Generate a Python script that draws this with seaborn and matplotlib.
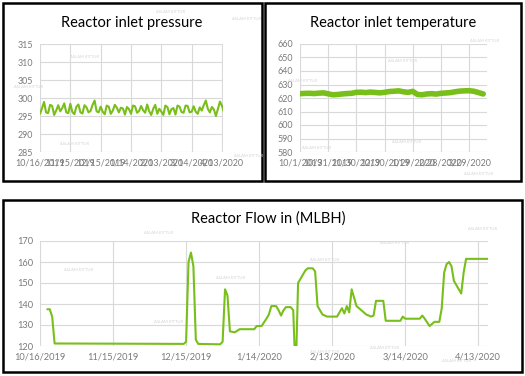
import pandas as pd
import numpy as np
import matplotlib
matplotlib.use("Agg")
import matplotlib.pyplot as plt
import seaborn as sns
from matplotlib.patches import Rectangle

# ---- data ----
pressure_start = "2019-10-16"
pressure_values = [
    295.6, 297.2, 298.9, 296.0, 295.8, 298.1, 297.8, 295.3, 296.5, 298.0,
    296.3, 297.2, 298.5, 296.0, 295.8, 298.4, 296.1, 295.5, 297.6, 298.2,
    296.0, 295.7, 298.0, 297.4, 296.0, 296.4, 298.1, 299.3, 296.3, 296.0,
    297.6, 296.2, 295.5, 297.9, 297.6, 295.6, 296.5, 298.1, 297.3, 296.0,
    297.3, 297.1, 295.4, 297.5, 296.9, 295.6, 297.9, 297.7, 295.9, 296.4,
    297.8, 296.6, 295.9, 298.2, 296.3, 295.3, 297.0, 298.1, 295.6, 297.0,
    296.2, 295.3, 297.9, 297.5, 295.5, 296.9, 297.2, 295.4, 297.9, 297.6,
    296.1, 295.9, 297.9, 297.8, 296.0, 296.2, 297.7, 296.2, 295.6, 297.4,
    296.5, 298.0, 299.3, 297.0, 296.0, 297.5, 296.8, 295.0, 297.0, 299.0,
    297.8, 296.0,
]
pressure_ticks = ["10/16/2019", "11/15/2019", "12/15/2019", "1/14/2020",
                  "2/13/2020", "3/14/2020", "4/13/2020"]

temp_start = "2019-10-01"
temp_values = [
    623.2, 623.4, 623.5, 623.3, 623.6, 623.8, 623.1, 622.4, 622.6, 623.0,
    623.3, 623.5, 624.2, 624.3, 624.0, 624.4, 624.1, 623.8, 624.2, 624.8,
    625.0, 625.3, 624.6, 624.2, 624.9, 622.6, 622.4, 623.0, 623.2, 622.9,
    623.5, 623.7, 624.0, 624.6, 625.1, 625.3, 625.4, 625.0, 624.0, 623.0,
]
temp_ticks = ["10/1/2019", "10/31/2019", "11/30/2019", "12/30/2019",
              "1/29/2020", "2/28/2020", "3/29/2020"]

flow_dates = [
    "2019-10-19", "2019-10-20", "2019-10-21", "2019-10-22", "2019-11-20",
    "2019-12-14", "2019-12-15", "2019-12-16", "2019-12-17", "2019-12-18",
    "2019-12-19", "2019-12-20", "2019-12-29", "2019-12-30", "2019-12-31",
    "2020-01-01", "2020-01-02", "2020-01-04", "2020-01-06", "2020-01-12",
    "2020-01-13", "2020-01-15", "2020-01-17", "2020-01-18", "2020-01-19",
    "2020-01-21", "2020-01-22", "2020-01-23", "2020-01-24", "2020-01-25",
    "2020-01-27", "2020-01-28", "2020-01-29", "2020-01-30", "2020-01-31",
    "2020-02-02", "2020-02-03", "2020-02-05", "2020-02-06", "2020-02-07",
    "2020-02-09", "2020-02-11", "2020-02-15", "2020-02-16", "2020-02-17",
    "2020-02-18", "2020-02-19", "2020-02-20", "2020-02-21", "2020-02-23",
    "2020-02-25", "2020-02-27", "2020-02-29", "2020-03-01", "2020-03-02",
    "2020-03-05", "2020-03-06", "2020-03-12", "2020-03-13", "2020-03-14",
    "2020-03-20", "2020-03-21", "2020-03-22", "2020-03-24", "2020-03-25",
    "2020-03-26", "2020-03-28", "2020-03-29", "2020-03-30", "2020-03-31",
    "2020-04-01", "2020-04-02", "2020-04-03", "2020-04-04", "2020-04-05",
    "2020-04-06", "2020-04-07", "2020-04-08", "2020-04-17",
]
flow_values = [
    137.5, 137.5, 134.0, 121.2, 121.1,
    121.0, 122.0, 160.0, 164.5, 158.0,
    123.0, 121.0, 120.8, 122.0, 147.0,
    144.0, 127.0, 126.5, 128.0, 128.0,
    129.5, 129.5, 133.0, 135.0, 139.0,
    139.0, 137.0, 134.5, 137.0, 138.5,
    138.5, 137.0, 105.0, 150.0, 152.0,
    156.0, 157.0, 157.0, 155.5, 139.0,
    135.0, 134.0, 134.0, 136.0, 138.0,
    135.5, 139.0, 136.0, 147.0, 139.0,
    137.0, 135.0, 134.0, 134.5, 141.5,
    141.5, 132.0, 132.0, 134.0, 133.0,
    133.0, 134.5, 133.0, 129.5, 130.5,
    131.5, 131.5, 138.0, 155.0, 159.0,
    160.0, 158.0, 151.0, 149.0, 147.0,
    145.0, 155.0, 161.5, 161.5,
]
flow_ticks = ["10/16/2019", "11/15/2019", "12/15/2019", "1/14/2020",
              "2/13/2020", "3/14/2020", "4/13/2020"]

watermark = "ASLAM KITTUR"

pressure_df = pd.DataFrame({
    "date": pd.date_range(pressure_start, periods=len(pressure_values), freq="2D"),
    "value": pressure_values,
})
temp_df = pd.DataFrame({
    "date": pd.date_range(temp_start, periods=len(temp_values), freq="5D"),
    "value": temp_values,
})
flow_df = pd.DataFrame({"date": pd.to_datetime(flow_dates), "value": flow_values})

sns.set_style("white")
plt.rcParams["font.family"] = ["Lato", "DejaVu Sans"]

green = "#78bf1a"
grid_c = "#d9d9d9"
tick_c = "#7a7a7a"

fig = plt.figure(figsize=(5.25, 3.76), dpi=100)
W, H = 525.0, 376.0


def px_axes(x0, y0, x1, y1):
    return fig.add_axes([x0 / W, 1 - y1 / H, (x1 - x0) / W, (y1 - y0) / H])


def style_axes(ax, ticks, xlim, ylim, ystep):
    ax.set_xlim(pd.Timestamp(xlim[0]), pd.Timestamp(xlim[1]))
    ax.set_ylim(*ylim)
    ax.set_xticks(pd.to_datetime(ticks, format="%m/%d/%Y"))
    ax.set_xticklabels(ticks)
    ax.set_yticks(np.arange(ylim[0], ylim[1] + ystep / 2, ystep))
    for s in ax.spines.values():
        s.set_visible(False)
    ax.grid(True, color=grid_c, lw=0.8)
    ax.set_axisbelow(True)
    ax.tick_params(length=0, labelsize=6.4, colors=tick_c, pad=5)
    ax.set_xlabel("")
    ax.set_ylabel("")


# panel frames
for (x0, y0, x1, y1) in [(3, 3, 262, 181), (265, 3, 521, 181), (3, 200, 522, 372)]:
    fig.patches.append(Rectangle((x0 / W, 1 - y1 / H), (x1 - x0) / W, (y1 - y0) / H,
                                 transform=fig.transFigure, fill=False,
                                 edgecolor="black", lw=1.8))

# pressure
ax1 = px_axes(40, 44, 223, 152)
sns.lineplot(data=pressure_df, x="date", y="value", ax=ax1, color=green, lw=1.5)
style_axes(ax1, pressure_ticks, ("2019-10-16", "2020-04-14"), (285, 315), 5)

# temperature
ax2 = px_axes(300, 44, 487, 152)
sns.lineplot(data=temp_df, x="date", y="value", ax=ax2, color=green, lw=4)
style_axes(ax2, temp_ticks, ("2019-10-01", "2020-04-17"), (580, 660), 10)

# flow
ax3 = px_axes(40, 241, 488, 346)
sns.lineplot(data=flow_df, x="date", y="value", ax=ax3, color=green, lw=1.5)
style_axes(ax3, flow_ticks, ("2019-10-16", "2020-04-17"), (120, 170), 10)
ax3.tick_params(labelsize=6.7)

fig.text(132 / W, 1 - 23 / H, "Reactor inlet pressure", ha="center", va="center",
         fontsize=10.5, color="black")
fig.text(393 / W, 1 - 23 / H, "Reactor inlet temperature", ha="center", va="center",
         fontsize=10.5, color="black")
fig.text(268 / W, 1 - 219 / H, "Reactor Flow in (MLBH)", ha="center", va="center",
         fontsize=10.5, color="black")

for (x, y) in [(170, 12), (247, 19), (85, 57), (28, 87), (74, 144), (248, 156),
               (485, 41), (403, 61), (302, 81), (407, 142), (317, 148), (478, 174),
               (158, 233), (79, 270), (231, 278), (168, 322), (482, 229), (394, 243),
               (324, 260), (324, 352), (384, 348), (456, 361)]:
    fig.text(x / W, 1 - y / H, watermark, ha="center", va="center",
             fontsize=3, color="#d4d4d4")

fig.savefig("out.png", dpi=100)
